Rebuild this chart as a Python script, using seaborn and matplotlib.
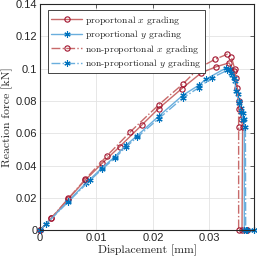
import numpy as np
import pandas as pd
import matplotlib
matplotlib.use("Agg")
import matplotlib.pyplot as plt
from matplotlib.ticker import FormatStrFormatter
import seaborn as sns

# displacement [mm] / reaction force [kN]
px_disp = [0, 0.002, 0.005, 0.008, 0.011, 0.0141, 0.018, 0.021, 0.0251, 0.0286,
           0.0312, 0.0335, 0.0344, 0.0347, 0.0353, 0.0357, 0.0359, 0.0358, 0.0367]
px_force = [0, 0.0074, 0.0193, 0.031, 0.0414, 0.0517, 0.065, 0.0753, 0.0876, 0.0975,
            0.1012, 0.1036, 0.0985, 0.0944, 0.080, 0.0687, 0.0636, 0.0, 0.0]

py_disp = [0, 0.001, 0.005, 0.0081, 0.011, 0.0132, 0.0152, 0.0172, 0.021, 0.0253,
           0.0281, 0.0294, 0.033, 0.0336, 0.0341, 0.0345, 0.035, 0.0353, 0.0356,
           0.0359, 0.0362, 0.0362, 0.0367, 0.038]
py_force = [0, 0.0037, 0.018, 0.029, 0.0386, 0.0453, 0.0525, 0.0585, 0.0705, 0.0835,
            0.0897, 0.0935, 0.1005, 0.1, 0.0964, 0.0923, 0.0841, 0.080, 0.0759,
            0.0728, 0.069, 0.0, 0.0, 0.0]

npx_disp = [0, 0.002, 0.005, 0.008, 0.0119, 0.016, 0.021, 0.0253, 0.0282, 0.031,
            0.0332, 0.0339, 0.0345, 0.0349, 0.0352, 0.0352, 0.0352, 0.0367]
npx_force = [0, 0.0076, 0.0196, 0.0315, 0.0462, 0.0609, 0.0775, 0.0905, 0.1005, 0.1058,
             0.109, 0.1073, 0.1, 0.088, 0.075, 0.064, 0.0, 0.0]

npy_disp = [0, 0.001, 0.005, 0.0089, 0.011, 0.0132, 0.0152, 0.0172, 0.021, 0.0253,
            0.0281, 0.0305, 0.0332, 0.0338, 0.0343, 0.0348, 0.0352, 0.0356, 0.036,
            0.0364, 0.03645, 0.0367, 0.038]
npy_force = [0, 0.0036, 0.0176, 0.031, 0.0378, 0.0444, 0.0515, 0.0575, 0.069, 0.0818,
             0.0882, 0.0945, 0.099, 0.0975, 0.094, 0.086, 0.079, 0.073, 0.0685,
             0.064, 0.0, 0.0, 0.0]

labels = ["proportonal $x$ grading", "proportional $y$ grading",
          "non-proportonal $x$ grading", "non-proportional $y$ grading"]

red_dark, red_light = "#A2142F", "#C86A6A"
blue_dark, blue_light = "#0072BD", "#6AAEDD"
asterisk = (6, 2, 0)

sns.set_style("white")
plt.rcParams["mathtext.fontset"] = "cm"
plt.rcParams["font.family"] = ["Liberation Sans", "DejaVu Sans"]

fig, ax = plt.subplots(figsize=(2.57, 2.58), dpi=100)
fig.subplots_adjust(left=0.156, right=0.99, bottom=0.108, top=0.984)

series = [
    (px_disp, px_force, labels[0], red_light, red_dark, "o", "-"),
    (py_disp, py_force, labels[1], blue_light, blue_dark, asterisk, "-"),
    (npx_disp, npx_force, labels[2], red_light, red_dark, "o", "-."),
    (npy_disp, npy_force, labels[3], blue_light, blue_dark, asterisk, "-."),
]
for xs, ys, lab, lc, mc, mk, ls in series:
    df = pd.DataFrame({"disp": xs, "force": ys})
    sns.lineplot(data=df, x="disp", y="force", ax=ax, sort=False, estimator=None,
                 color=lc, linestyle=ls, linewidth=1.0, marker=mk,
                 markersize=3.8 if mk == "o" else 4.5, markeredgecolor=mc,
                 markerfacecolor="none", markeredgewidth=0.8,
                 label=lab, clip_on=False)

ax.set_xlim(0, 0.038)
ax.set_ylim(0, 0.14)
ax.set_xticks([0, 0.01, 0.02, 0.03])
ax.set_yticks(np.arange(0, 0.141, 0.02))
ax.xaxis.set_major_formatter(FormatStrFormatter("%g"))
ax.yaxis.set_major_formatter(FormatStrFormatter("%g"))
ax.grid(True, color="#e3e3e3", linewidth=0.6)
ax.tick_params(direction="in", length=3, width=0.5, top=True, right=True,
               labelsize=8, colors="#262626", pad=2)
for sp in ax.spines.values():
    sp.set_visible(True)
    sp.set_color("#262626")
    sp.set_linewidth(0.8)

ax.set_xlabel("Displacement [mm]", family="cmr10", fontsize=8.5, labelpad=1)
ax.set_ylabel("Reaction force [kN]", family="cmr10", fontsize=8.5, labelpad=2)

leg = ax.legend(loc="upper left", bbox_to_anchor=(0.035, 0.973), borderaxespad=0,
                fancybox=False, edgecolor="#262626", framealpha=1,
                prop={"family": "cmr10", "size": 7}, handlelength=3.2,
                handletextpad=0.3, labelspacing=0.15, borderpad=0.35)
leg.get_frame().set_linewidth(0.6)

fig.savefig("out.png", dpi=100)
